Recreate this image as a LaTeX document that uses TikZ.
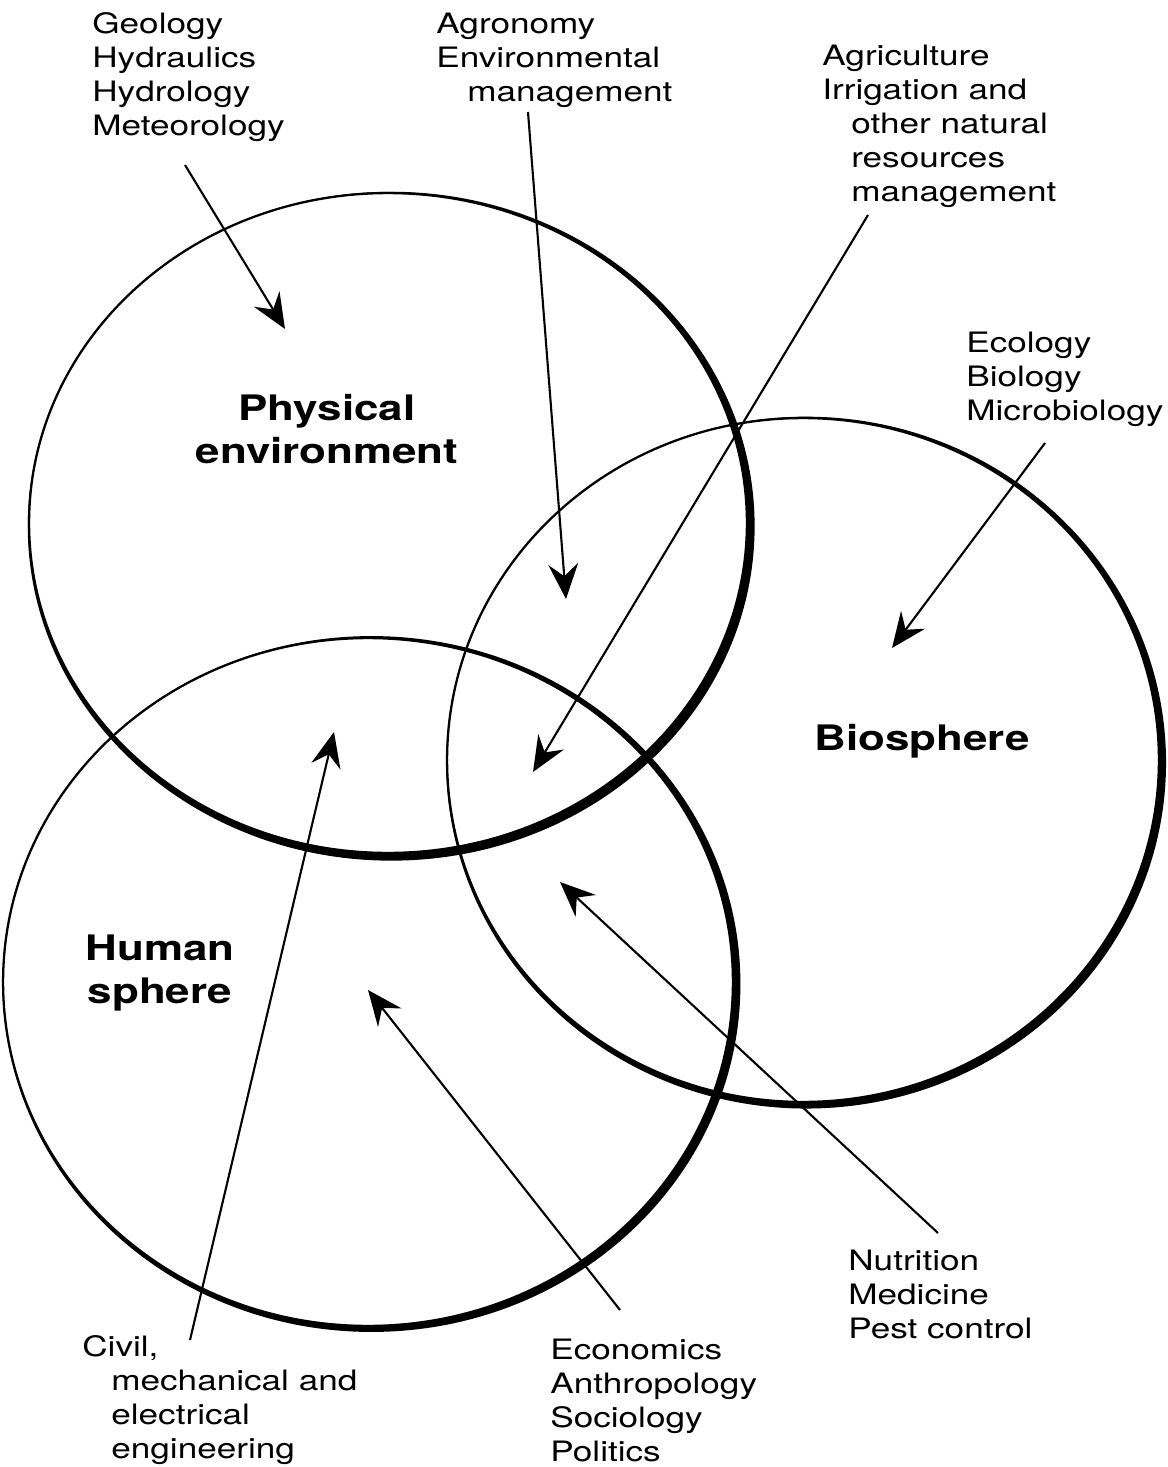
\documentclass[tikz,border=0pt]{standalone}
\usepackage{fontspec}
\setmainfont[FakeStretch=1.25]{TeX Gyre Heros}
\usetikzlibrary{arrows.meta}

\tikzset{
  lbl/.style={font=\fontsize{16}{19.3}\selectfont, align=left, anchor=base west, inner sep=0pt},
  sphere/.style={font=\bfseries\fontsize{20}{24.4}\selectfont, align=center, anchor=base, inner sep=0pt},
  link/.style={line width=1.2pt, -{Stealth[length=20pt, width=17pt, inset=7pt]}},
  rim/.style={line width=1.3pt},
}

\begin{document}
\begin{tikzpicture}[x=0.02cm, y=-0.02cm]
\useasboundingbox (0,0) rectangle (1167,1467);
% spheres, thick on the lower right
\fill[even odd rule] (388,523) ellipse [x radius=7.18cm, y radius=6.6cm]
  (391.2,526.2) ellipse [x radius=7.27cm, y radius=6.69cm];
\draw[rim] (388,523) ellipse [x radius=7.18cm, y radius=6.6cm];
\fill[even odd rule] (803,760) ellipse [x radius=7.12cm, y radius=6.84cm]
  (806.1,762.6) ellipse [x radius=7.2cm, y radius=6.92cm];
\draw[rim] (803,760) ellipse [x radius=7.12cm, y radius=6.84cm];
\fill[even odd rule] (368,982) ellipse [x radius=7.3cm, y radius=6.88cm]
  (371.5,984) ellipse [x radius=7.38cm, y radius=6.96cm];
\draw[rim] (368,982) ellipse [x radius=7.3cm, y radius=6.88cm];

% base anchor sits on the last line
\node[sphere] (physLbl) at (327,463) {Physical\\environment};
\node[sphere] (bioLbl) at (922,750) {Biosphere};
\node[sphere] (humLbl) at (160,1003) {Human\\sphere};

% disciplines
\node[lbl] (geoTxt) at (92,135) {Geology\\Hydraulics\\Hydrology\\Meteorology};
\node[lbl] (agroTxt) at (436,101) {Agronomy\\Environmental\\\hspace*{0.62cm}management};
\node[lbl] (agriTxt) at (822,201) {Agriculture\\Irrigation and\\\hspace*{0.58cm}other natural\\\hspace*{0.58cm}resources\\\hspace*{0.58cm}management};
\node[lbl] (ecoTxt) at (966,420) {Ecology\\Biology\\Microbiology};
\node[lbl] (nutTxt) at (848,1338) {Nutrition\\Medicine\\Pest control};
\node[lbl] (econTxt) at (550,1461) {Economics\\Anthropology\\Sociology\\Politics};
\node[lbl] (civTxt) at (82,1458) {Civil,\\\hspace*{0.58cm}mechanical and\\\hspace*{0.58cm}electrical\\\hspace*{0.58cm}engineering};

\coordinate (geoTail) at (185,165);   \coordinate (geoTip) at (285,329);
\coordinate (agroTail) at (528,112);  \coordinate (agroTip) at (566,599);
\coordinate (agriTail) at (868,215);  \coordinate (agriTip) at (533,772);
\coordinate (ecoTail) at (1045,443);  \coordinate (ecoTip) at (892,648);
\coordinate (civTail) at (190,1340);  \coordinate (civTip) at (334,732);
\coordinate (econTail) at (620,1310); \coordinate (econTip) at (368,990);
\coordinate (nutTail) at (938,1233);  \coordinate (nutTip) at (560,882);

\draw[link] (geoTail) -- (geoTip);
\draw[link] (agroTail) -- (agroTip);
\draw[link] (agriTail) -- (agriTip);
\draw[link] (ecoTail) -- (ecoTip);
\draw[link] (civTail) -- (civTip);
\draw[link] (econTail) -- (econTip);
\draw[link] (nutTail) -- (nutTip);
\end{tikzpicture}
\end{document}
